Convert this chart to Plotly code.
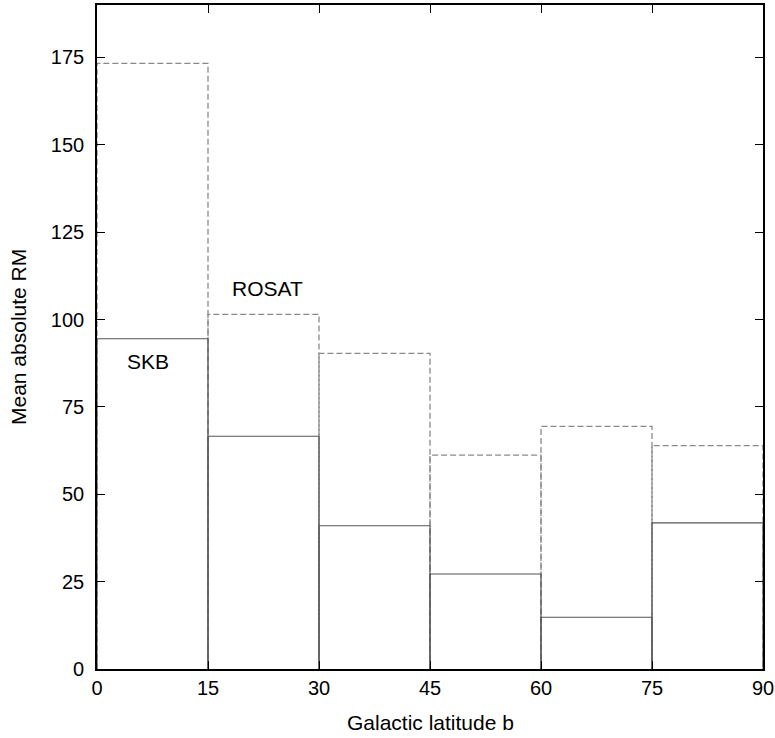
import plotly.graph_objects as go

bin_edges = [0, 15, 30, 45, 60, 75, 90]
rosat = [173.3, 101.5, 90.3, 61.2, 69.4, 63.9]
skb = [94.5, 66.6, 41.0, 27.2, 14.8, 41.8]
x_ticks = [0, 15, 30, 45, 60, 75, 90]
y_ticks = [0, 25, 50, 75, 100, 125, 150, 175]


def box_path(edges, vals):
    xs, ys = [], []
    for i, v in enumerate(vals):
        x0, x1 = edges[i], edges[i + 1]
        xs += [x0, x0, x1, x1, None]
        ys += [0, v, v, 0, None]
    return xs, ys


fig = go.Figure()
rx, ry = box_path(bin_edges, rosat)
fig.add_trace(go.Scatter(x=rx, y=ry, mode="lines", name="ROSAT",
                         line=dict(color="#8a8a8a", width=1.3, dash="6px,3px"),
                         showlegend=False, hoverinfo="skip"))
sx, sy = box_path(bin_edges, skb)
fig.add_trace(go.Scatter(x=sx, y=sy, mode="lines", name="SKB",
                         line=dict(color="#555555", width=1.1),
                         showlegend=False, hoverinfo="skip"))

fam = "Liberation Sans, Arial, Helvetica, sans-serif"
font = dict(family=fam, size=21, color="black")
tfont = dict(family=fam, size=20, color="black")

fig.add_annotation(x=23.1, y=109, text="ROSAT", showarrow=False, font=font)
fig.add_annotation(x=6.9, y=88, text="SKB", showarrow=False, font=font)

# axis titles
fig.add_annotation(xref="paper", yref="paper", x=0.5, y=-0.08,
                   xanchor="center", yanchor="middle", showarrow=False,
                   text="Galactic latitude b", font=font)
fig.add_annotation(xref="paper", yref="paper", x=-0.1186, y=0.5,
                   xanchor="center", yanchor="middle", showarrow=False,
                   textangle=-90, text="Mean absolute RM", font=font)

fig.add_annotation(xref="paper", yref="paper", x=-0.128, y=-0.093,
                   xanchor="left", yanchor="top", showarrow=False,
                   text="The    mean    absolute    RM    values    of    extragalactic    sources    from    Galactic    l",
                   font=dict(family="Liberation Serif, Times New Roman, serif", size=22, color="black"))

fig.update_layout(
    width=775, height=738,
    margin=dict(l=97, r=12, t=5, b=69),
    paper_bgcolor="white", plot_bgcolor="white",
    font=font,
    xaxis=dict(range=[0, 90], tickvals=x_ticks, ticks="inside", ticklen=8,
               tickcolor="black", tickwidth=1.3, mirror="allticks", showline=True,
               linecolor="black", linewidth=1.6, showgrid=False, zeroline=False,
               automargin=False, tickfont=tfont),
    yaxis=dict(range=[0, 190], tickvals=y_ticks, ticks="inside", ticklen=8,
               tickcolor="black", tickwidth=1.3, mirror="allticks", showline=True,
               linecolor="black", linewidth=1.6, showgrid=False, zeroline=False,
               automargin=False, ticklabelstandoff=7, tickfont=tfont),
)

fig.write_html("out.html", config={"displayModeBar": False},
               post_script="document.body.style.margin='0';document.body.style.overflow='hidden';")
